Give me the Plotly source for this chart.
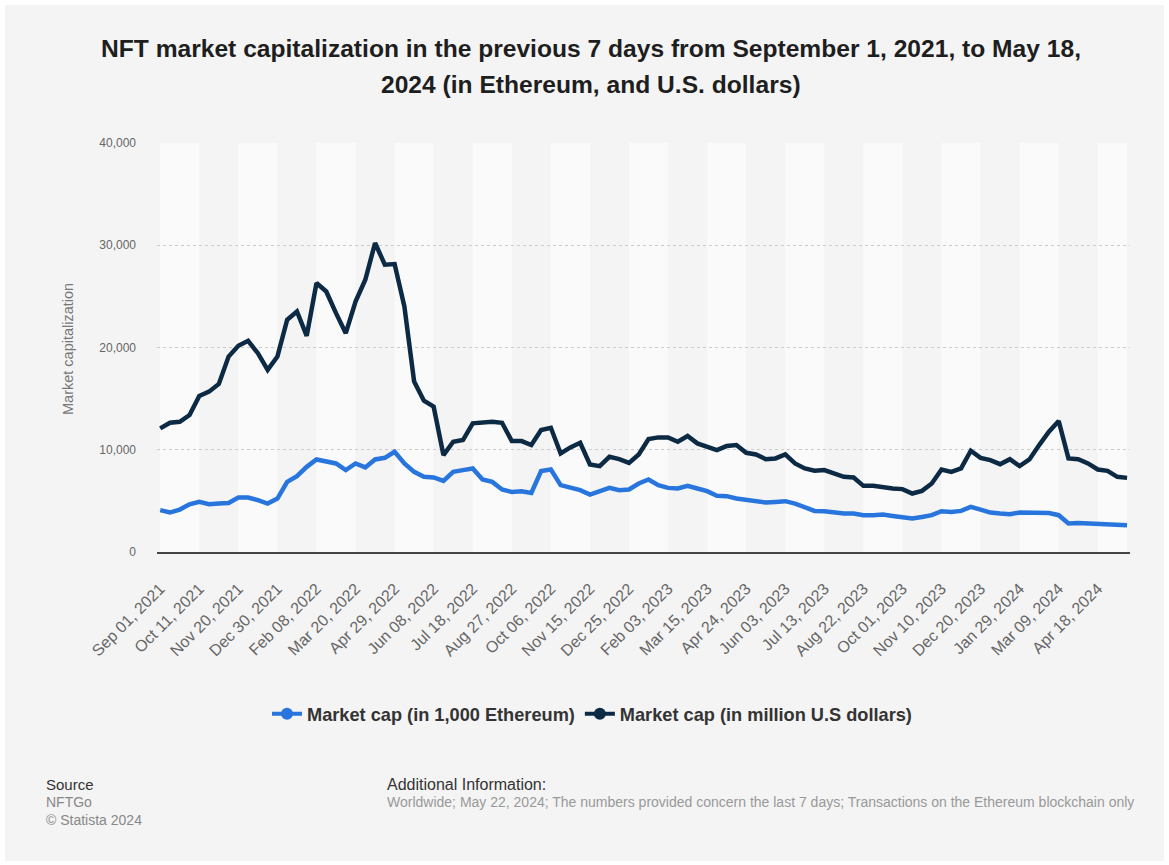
import plotly.graph_objects as go
import pandas as pd

# Categories: every 10 days from Sep 1, 2021 to May 18, 2024
dates = pd.date_range("2021-09-01", "2024-05-18", freq="10D").strftime("%b %d, %Y").tolist()

tick_labels = ["Sep 01, 2021", "Oct 11, 2021", "Nov 20, 2021", "Dec 30, 2021", "Feb 08, 2022",
               "Mar 20, 2022", "Apr 29, 2022", "Jun 08, 2022", "Jul 18, 2022", "Aug 27, 2022",
               "Oct 06, 2022", "Nov 15, 2022", "Dec 25, 2022", "Feb 03, 2023", "Mar 15, 2023",
               "Apr 24, 2023", "Jun 03, 2023", "Jul 13, 2023", "Aug 22, 2023", "Oct 01, 2023",
               "Nov 10, 2023", "Dec 20, 2023", "Jan 29, 2024", "Mar 09, 2024", "Apr 18, 2024"]

eth_1000 = [4090, 3860, 4150, 4670, 4900, 4670, 4740, 4800, 5330, 5330,
            5070, 4740, 5230, 6860, 7420, 8330, 9050, 8820, 8660, 8010,
            8660, 8270, 9050, 9210, 9800, 8660, 7840, 7350, 7290, 6960,
            7840, 8010, 8170, 7090, 6860, 6110, 5880, 5950, 5780, 7910,
            8070, 6540, 6310, 6050, 5620, 5950, 6270, 6050, 6110, 6700,
            7090, 6540, 6270, 6210, 6470, 6210, 5950, 5490, 5460, 5230,
            5070, 5000, 4840, 4900, 4970, 4740, 4410, 4020, 3990, 3860,
            3760, 3760, 3600, 3600, 3660, 3530, 3430, 3270, 3430, 3600,
            3990, 3920, 4020, 4410, 4150, 3860, 3760, 3690, 3860, 3860,
            3820, 3820, 3600, 2780, 2840, 2780, 2780, 2710, 2650, 2620]

usd_million = [12090, 12640, 12740, 13400, 15260, 15680, 16430, 19110, 20160, 20650,
               19440, 17810, 19110, 22710, 23520, 21140, 26300, 25480, 23360, 21400,
               24500, 26630, 30220, 28100, 28160, 24010, 16660, 14800, 14210, 9480,
               10780, 10950, 12580, 12680, 12740, 12640, 10850, 10850, 10460, 11930,
               12150, 9640, 10230, 10680, 8560, 8400, 9310, 9080, 8720, 9540,
               11040, 11210, 11210, 10780, 11340, 10620, 10290, 9970, 10360, 10460,
               9700, 9540, 9080, 9150, 9540, 8660, 8170, 7940, 8010, 7680,
               7350, 7290, 6470, 6470, 6310, 6210, 6150, 5720, 5980, 6700,
               8070, 7840, 8170, 9900, 9210, 8990, 8590, 9080, 8400, 9050,
               10460, 11760, 12810, 9150, 9080, 8660, 8070, 7940, 7350, 7250]

series_names = ["Market cap (in 1,000 Ethereum)", "Market cap (in million U.S dollars)"]
colors = ["#2876dd", "#0d2a45"]

idx = list(range(len(dates)))

fig = go.Figure()
for vals, name, col in [(eth_1000, series_names[0], colors[0]), (usd_million, series_names[1], colors[1])]:
    fig.add_trace(go.Scatter(x=idx, y=vals, mode="lines", name=name, text=dates,
                             line=dict(color=col, width=4.5), showlegend=False,
                             hovertemplate="%{text}: %{y:,}<extra></extra>"))
for name, col in zip(series_names, colors):
    fig.add_trace(go.Scatter(x=[None], y=[None], mode="lines+markers", name="<b>" + name + "</b>",
                             line=dict(color=col, width=4), marker=dict(color=col, size=12)))

ML, MR, MT, MB = 157, 39, 143, 313
W, H = 1169, 865
PW, PH = W - ML - MR, H - MT - MB

def px(x):
    return (x - ML) / PW

def py(y):
    return (H - MB - y) / PH

shapes = []
# alternating bands
n = len(dates)
for k, start in enumerate(range(0, n - 1, 4)):
    if k % 2 == 0:
        shapes.append(dict(type="rect", xref="x", yref="y", x0=start, x1=min(start + 4, n - 1),
                           y0=0, y1=40000, fillcolor="#fafafa", line=dict(width=0), layer="below"))
# white page edges
for x0, x1, y0, y1 in [(0, W, 0, 5), (0, 5, 0, H), (W - 5, W, 0, H), (0, W, H - 4, H)]:
    shapes.append(dict(type="rect", xref="paper", yref="paper", x0=px(x0), x1=px(x1),
                       y0=py(y1), y1=py(y0), fillcolor="white", line=dict(width=0), layer="above"))

ann = []
FONT = "Liberation Sans, Arial, sans-serif"
ann.append(dict(text="<b>NFT market capitalization in the previous 7 days from September 1, 2021, to May 18,</b>",
                x=px(591), y=py(48), xref="paper", yref="paper", showarrow=False,
                xanchor="center", yanchor="middle", font=dict(size=24.6, color="#1e1e1e", family=FONT)))
ann.append(dict(text="<b>2024 (in Ethereum, and U.S. dollars)</b>",
                x=px(591), y=py(84), xref="paper", yref="paper", showarrow=False,
                xanchor="center", yanchor="middle", font=dict(size=24.6, color="#1e1e1e", family=FONT)))
ann.append(dict(text="Market capitalization", x=px(68), y=py(349), xref="paper", yref="paper",
                showarrow=False, textangle=-90, xanchor="center", yanchor="middle",
                font=dict(size=14.5, color="#777777", family=FONT)))
ann.append(dict(text="Source", x=px(44), y=py(784), xref="paper", yref="paper", showarrow=False,
                xanchor="left", yanchor="middle", font=dict(size=15, color="#333333", family=FONT)))
ann.append(dict(text="NFTGo", x=px(44), y=py(802), xref="paper", yref="paper", showarrow=False,
                xanchor="left", yanchor="middle", font=dict(size=14, color="#888888", family=FONT)))
ann.append(dict(text="© Statista 2024", x=px(44), y=py(820), xref="paper", yref="paper", showarrow=False,
                xanchor="left", yanchor="middle", font=dict(size=14, color="#888888", family=FONT)))
ann.append(dict(text="Additional Information:", x=px(385), y=py(784), xref="paper", yref="paper",
                showarrow=False, xanchor="left", yanchor="middle",
                font=dict(size=16, color="#333333", family=FONT)))
ann.append(dict(text="Worldwide; May 22, 2024; The numbers provided concern the last 7 days; Transactions on the Ethereum blockchain only",
                x=px(385), y=py(802), xref="paper", yref="paper", showarrow=False,
                xanchor="left", yanchor="middle", font=dict(size=14, color="#999999", family=FONT)))

fig.update_layout(
    width=W, height=H, autosize=False,
    margin=dict(l=ML, r=MR, t=MT, b=MB, pad=0),
    paper_bgcolor="#f4f4f4", plot_bgcolor="rgba(0,0,0,0)",
    font=dict(family=FONT, color="#666666"),
    showlegend=True,
    legend=dict(orientation="h", x=px(592), y=py(714), xanchor="center", yanchor="middle",
                font=dict(size=18.2, color="#333333", family=FONT), itemwidth=30,
                bgcolor="rgba(0,0,0,0)"),
    shapes=shapes, annotations=ann,
    xaxis=dict(range=[-0.33, 99.3], tickvals=list(range(0, n, 4)), ticktext=tick_labels,
               tickangle=-45, showgrid=False, zeroline=False, showline=True, linecolor="#444444",
               linewidth=2, ticks="", ticklabelstandoff=19,
               tickfont=dict(size=16, color="#666666", family=FONT)),
    yaxis=dict(range=[0, 40000], tickvals=[0, 10000, 20000, 30000, 40000],
               ticktext=["0", "10,000", "20,000", "30,000", "40,000"],
               showgrid=True, gridcolor="#cccccc", griddash="dot", gridwidth=1,
               zeroline=False, showline=False, ticks="", ticklabelstandoff=20,
               tickfont=dict(size=12, color="#666666", family=FONT)),
)

fig.write_html("out.html", config={"displayModeBar": False},
               post_script="document.body.style.margin='0';")
